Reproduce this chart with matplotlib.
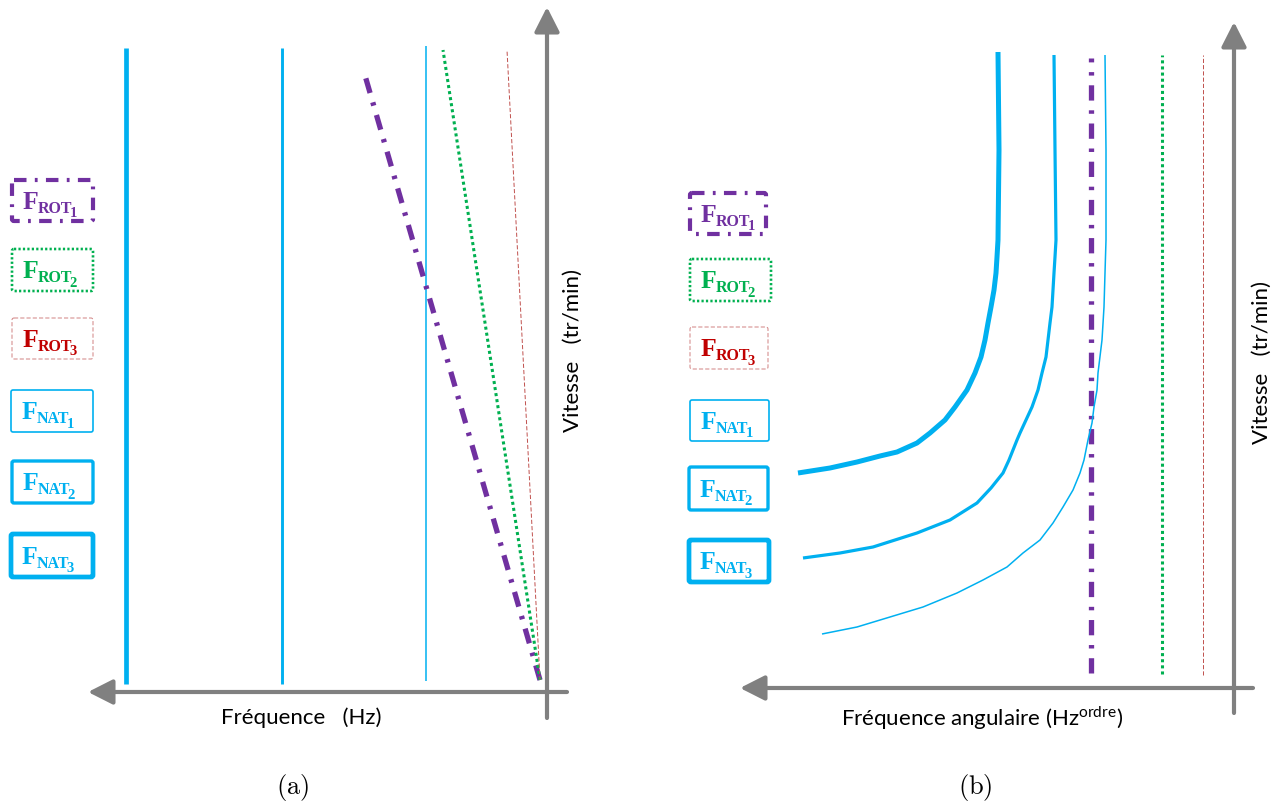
import matplotlib.pyplot as plt
from matplotlib.patches import FancyBboxPatch

plt.rcParams['lines.scale_dashes'] = False
plt.rcParams['mathtext.fontset'] = 'custom'
plt.rcParams['mathtext.rm'] = 'Liberation Serif'
plt.rcParams['mathtext.sf'] = 'Lato'

BLUE = '#00b0f0'
PURPLE = '#7030a0'
GREEN = '#00b050'
RED = '#c00000'
GREY = '#808080'

# --- (a) Campbell diagram : frequency (Hz) vs speed
nat_freq = [114, 258, 414]          # F_NAT1, F_NAT2, F_NAT3
nat_lo = [-1, -4, -4]
nat_hi = [634, 632, 632]
rot_freq_top = [176, 97, 33]        # F_ROT1, F_ROT2, F_ROT3 at top speed
rot_speed_top = [608, 630, 630]

# --- (b) order domain : angular frequency vs speed
rot_order = [143, 72, 31]
rot_lo = [15, 14, 13]
rot_hi = [630, 633, 633]

nat1_order = [412, 377, 344, 311, 277, 251, 227, 211, 194, 181, 171, 161, 154,
              150, 146, 142, 140, 137, 136, 132, 130, 129, 128, 128, 129]
nat1_speed = [54, 61, 71, 81, 95, 108, 121, 135, 148, 165, 181, 198, 215,
              228, 248, 265, 281, 298, 315, 348, 381, 415, 448, 538, 633]
nat2_order = [431, 394, 361, 317, 284, 257, 243, 231, 225, 217, 214, 208, 202,
              196, 192, 188, 186, 184, 182, 181, 180, 179, 178, 179, 180]
nat2_speed = [130, 135, 141, 155, 168, 185, 200, 215, 228, 248, 255, 268, 281,
              298, 315, 331, 348, 365, 381, 398, 415, 431, 448, 538, 633]
nat3_order = [436, 404, 377, 354, 337, 317, 304, 289, 279, 267, 259, 253, 249,
              246, 243, 240, 238, 237, 236, 235, 236]
nat3_speed = [215, 220, 226, 232, 236, 245, 255, 268, 281, 298, 315, 331, 348,
              365, 381, 398, 415, 431, 448, 538, 636]

nat_lw = [1.1, 2.1, 3.4]
rot_styles = [
    dict(color=PURPLE, lw=3.8, ls=(0, (11, 7, 2.5, 7))),
    dict(color=GREEN, lw=2.2, ls=(0, (2.2, 2.2))),
    dict(color='#c0504d', lw=0.7, ls=(0, (3, 1.5))),
]

W, H = 1276, 805
fig = plt.figure(figsize=(W / 100, H / 100), dpi=100, facecolor='w')


def arrow(ax, start, tip):
    ax.annotate('', xy=tip, xytext=start, annotation_clip=False,
                arrowprops=dict(arrowstyle='-|>,head_length=0.75,head_width=0.38',
                                color=GREY, lw=3, mutation_scale=20,
                                shrinkA=0, shrinkB=0))


# left panel
ax1 = fig.add_axes([80 / W, 70 / H, 500 / W, 735 / H])
ax1.set_xlim(460, -40)
ax1.set_ylim(-55, 680)
ax1.axis('off')
for f, lo, hi, lw in zip(nat_freq, nat_lo, nat_hi, nat_lw):
    ax1.plot([f, f], [lo, hi], color=BLUE, lw=lw, solid_capstyle='butt')
for f, s, st in zip(rot_freq_top, rot_speed_top, rot_styles):
    ax1.plot([0, f], [0, s], **st)
arrow(ax1, (-27, -12), (452, -12))
arrow(ax1, (-7, -38), (-7, 673))

# right panel
ax2 = fig.add_axes([730 / W, 70 / H, 546 / W, 735 / H])
ax2.set_xlim(504, -42)
ax2.set_ylim(-47, 688)
ax2.axis('off')
for o, lo, hi, st in zip(rot_order, rot_lo, rot_hi, rot_styles):
    ax2.plot([o, o], [lo, hi], **st)
for o, s, lw in zip([nat1_order, nat2_order, nat3_order],
                    [nat1_speed, nat2_speed, nat3_speed], [1.1, 2.3, 3.6]):
    ax2.plot(o, s, color=BLUE, lw=lw, solid_capstyle='butt', solid_joinstyle='round')
arrow(ax2, (-19, 0), (494, 0))
arrow(ax2, (0, -25), (0, 666))

# overlay for labels and legend boxes (pixel coordinates)
ov = fig.add_axes([0, 0, 1, 1])
ov.set_xlim(0, W)
ov.set_ylim(H, 0)
ov.axis('off')
ov.patch.set_alpha(0)

sans = dict(family='Lato', fontsize=16, color='black', ha='center', va='center')
ov.text(301, 718, 'Fréquence   (Hz)', **sans)
ov.text(573, 350, 'Vitesse   (tr/min)', rotation=90, **sans)
ov.text(982, 718, r'Fréquence angulaire (Hz$^{\mathsf{ordre}}$)', **sans)
ov.text(1262, 362, 'Vitesse   (tr/min)', rotation=90, **sans)
ov.text(293, 787, r'$\mathrm{(a)}$', math_fontfamily='cm', fontsize=19,
        ha='center', va='center')
ov.text(975, 787, r'$\mathrm{(b)}$', math_fontfamily='cm', fontsize=19,
        ha='center', va='center')

leg_names = ['ROT', 'ROT', 'ROT', 'NAT', 'NAT', 'NAT']
leg_index = ['1', '2', '3', '1', '2', '3']
leg_colors = [PURPLE, GREEN, RED, BLUE, BLUE, BLUE]
leg_edge = [
    dict(ec=PURPLE, lw=3.0, ls=(0, (9, 6, 2, 6))),
    dict(ec=GREEN, lw=1.9, ls=(0, (1.6, 1.6))),
    dict(ec='#d08080', lw=0.7, ls=(0, (3, 1.5))),
    dict(ec=BLUE, lw=1.2, ls='-'),
    dict(ec=BLUE, lw=2.4, ls='-'),
    dict(ec=BLUE, lw=3.4, ls='-'),
]
boxes_a = [(12, 180, 81, 41), (12, 249, 81, 42), (12, 318, 81, 41),
           (11, 390, 82, 42), (12, 461, 81, 42), (11, 534, 82, 43)]
boxes_b = [(690, 193, 76, 41), (690, 259, 81, 42), (690, 327, 78, 42),
           (690, 400, 79, 41), (689, 467, 79, 43), (689, 540, 80, 42)]

serif = dict(family='Liberation Serif', fontweight='bold')
for boxes in (boxes_a, boxes_b):
    for (x, y, w, h), nm, ix, c, e in zip(boxes, leg_names, leg_index, leg_colors, leg_edge):
        ov.add_patch(FancyBboxPatch((x, y), w, h, boxstyle='round,pad=0,rounding_size=2',
                                    fc='none', **e))
        t1 = ov.text(x + 11, y + h / 2 + 8, 'F', color=c, fontsize=18.5,
                     va='baseline', ha='left', **serif)
        t2 = ov.annotate(nm, xy=(1, 0), xycoords=t1, xytext=(-0.5, 0.6),
                         textcoords='offset points', color=c, fontsize=11.5,
                         va='baseline', ha='left', **serif)
        ov.annotate(ix, xy=(1, 0), xycoords=t2, xytext=(-2.3, -0.3),
                    textcoords='offset points', color=c, fontsize=10.5,
                    va='baseline', ha='left', **serif)

fig.savefig('out.png', dpi=100, facecolor='w')
